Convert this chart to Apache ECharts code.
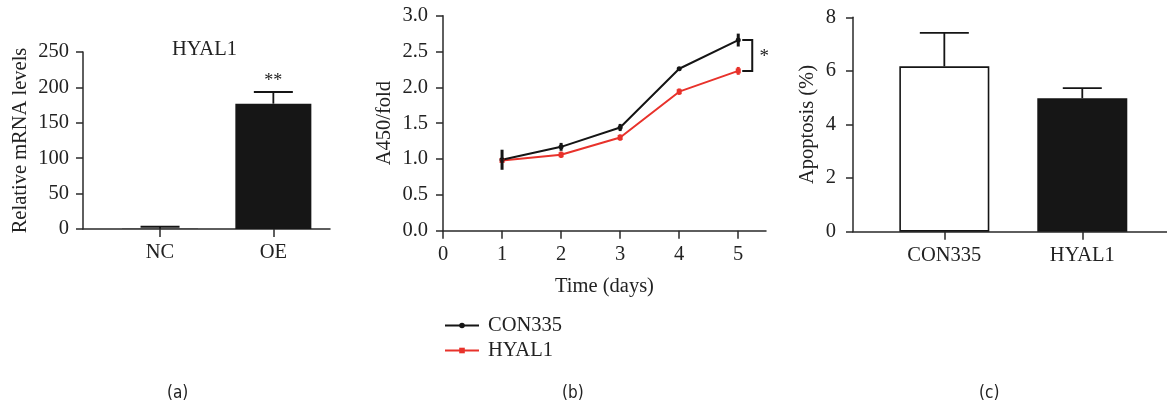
<!DOCTYPE html>
<html><head><meta charset="utf-8">
<script src="https://cdn.jsdelivr.net/npm/echarts@6/dist/echarts.min.js"></script>
<style>html,body{margin:0;padding:0;background:#fff}#c{width:1167px;height:404px}</style>
</head><body><div id="c"></div>
<script>
// ---------- Panel (a) ----------
const mrnaCategories = ['NC', 'OE'];
const mrnaValues = [0.2, 177];
const mrnaErrors = [3.0, 16.5];
const mrnaSig = ['', '**'];

// ---------- Panel (b) ----------
const days = [1, 2, 3, 4, 5];
const dayTicks = [0, 1, 2, 3, 4, 5];
const conValues = [0.99, 1.17, 1.44, 2.26, 2.66];
const conErrors = [0.14, 0.055, 0.05, 0.01, 0.09];
const hyalValues = [0.98, 1.06, 1.30, 1.94, 2.23];
const hyalErrors = [0.02, 0.045, 0.045, 0.045, 0.055];
const seriesNames = ['CON335', 'HYAL1'];

// ---------- Panel (c) ----------
const apoCategories = ['CON335', 'HYAL1'];
const apoValues = [6.17, 4.98];
const apoErrors = [1.25, 0.38];

const FONT = 'Liberation Serif, Times New Roman, serif';
const LABFONT = 'Liberation Sans Narrow, DejaVu Sans Condensed, sans-serif';
const TXT = '#222';
const AX = '#2a2a2a';
const RED = '#e8322b';
const BLK = '#151515';
const FS = 20.5;

function axisLine() { return { show: true, onZero: false, lineStyle: { color: AX, width: 1.5 } }; }
function axisTick(len) { return { show: true, length: len, lineStyle: { color: AX, width: 1.5 } }; }
function lbl(extra) { return Object.assign({ color: TXT, fontFamily: FONT, fontSize: FS }, extra); }

function barErr(capHalf, sig) {
  return function (params, api) {
    const i = api.value(0);
    const top = api.coord([i, api.value(1)]);
    const hi = api.coord([i, api.value(1) + api.value(2)]);
    const ch = capHalf[i];
    const children = [
      { type: 'line', shape: { x1: top[0], y1: top[1], x2: hi[0], y2: hi[1] }, style: { stroke: BLK, lineWidth: 1.8 } },
      { type: 'line', shape: { x1: hi[0] - ch, y1: hi[1], x2: hi[0] + ch, y2: hi[1] }, style: { stroke: BLK, lineWidth: 1.8 } }
    ];
    if (sig && sig[i]) {
      children.push({ type: 'text', style: { text: sig[i], x: hi[0], y: hi[1] - 11, align: 'center', verticalAlign: 'middle', fontFamily: FONT, fontSize: 18, fill: TXT } });
    }
    return { type: 'group', children };
  };
}

function lineErr(color, w) {
  return function (params, api) {
    const x = api.value(0), y = api.value(1), e = api.value(2);
    const lo = api.coord([x, y - e]);
    const hi = api.coord([x, y + e]);
    return { type: 'line', shape: { x1: lo[0], y1: lo[1], x2: hi[0], y2: hi[1] }, style: { stroke: color, lineWidth: w } };
  };
}

const chart = echarts.init(document.getElementById('c'), null, { renderer: 'canvas' });

const option = {
  backgroundColor: '#fff',
  animation: false,
  grid: [
    { left: 83, top: 52, width: 247, height: 177 },
    { left: 443, top: 15.7, width: 323, height: 215 },
    { left: 853, top: 17.3, width: 314, height: 214.4 }
  ],
  xAxis: [
    {
      gridIndex: 0, type: 'value', min: -0.68, max: 1.5,
      axisLine: axisLine(), axisTick: Object.assign(axisTick(8), { customValues: [0, 1] }),
      axisLabel: lbl({ customValues: [0, 1], margin: 13, formatter: v => mrnaCategories[Math.round(v)] }),
      splitLine: { show: false }
    },
    {
      gridIndex: 1, type: 'value', min: 0, max: 5.47,
      axisLine: axisLine(), axisTick: Object.assign(axisTick(8), { customValues: dayTicks }),
      axisLabel: lbl({ customValues: dayTicks, margin: 13 }),
      splitLine: { show: false },
      name: 'Time (days)', nameLocation: 'middle', nameGap: 45,
      nameTextStyle: { color: TXT, fontFamily: FONT, fontSize: FS }
    },
    {
      gridIndex: 2, type: 'value', min: -0.662, max: 1.614,
      axisLine: axisLine(), axisTick: Object.assign(axisTick(8), { customValues: [0, 1] }),
      axisLabel: lbl({ customValues: [0, 1], margin: 13, formatter: v => apoCategories[Math.round(v)] }),
      splitLine: { show: false }
    }
  ],
  yAxis: [
    {
      gridIndex: 0, type: 'value', min: 0, max: 250, interval: 50,
      axisLine: axisLine(), axisTick: axisTick(7),
      axisLabel: lbl({ margin: 14 }), splitLine: { show: false },
      name: 'Relative mRNA levels', nameLocation: 'middle', nameGap: 52,
      nameTextStyle: { color: TXT, fontFamily: FONT, fontSize: FS }
    },
    {
      gridIndex: 1, type: 'value', min: 0, max: 3, interval: 0.5,
      axisLine: axisLine(), axisTick: axisTick(7),
      axisLabel: lbl({ margin: 15, formatter: v => v.toFixed(1) }), splitLine: { show: false },
      name: 'A450/fold', nameLocation: 'middle', nameGap: 48,
      nameTextStyle: { color: TXT, fontFamily: FONT, fontSize: FS }
    },
    {
      gridIndex: 2, type: 'value', min: 0, max: 8, interval: 2,
      axisLine: axisLine(), axisTick: axisTick(7),
      axisLabel: lbl({ margin: 17 }), splitLine: { show: false },
      name: 'Apoptosis (%)', nameLocation: 'middle', nameGap: 35,
      nameTextStyle: { color: TXT, fontFamily: FONT, fontSize: FS }
    }
  ],
  legend: {
    data: seriesNames, orient: 'vertical', left: 439, top: 310, padding: 5,
    itemWidth: 34, itemHeight: 7, itemGap: 4,
    textStyle: { color: TXT, fontFamily: FONT, fontSize: FS, padding: [0, 0, 0, 4] }
  },
  graphic: [
    { type: 'text', left: 172, top: 39, style: { text: 'HYAL1', fontFamily: FONT, fontSize: FS, fill: TXT } },
    { type: 'text', left: 167, top: 385, style: { text: '(a)', fontFamily: LABFONT, fontSize: 17, fill: TXT } },
    { type: 'text', left: 562, top: 385, style: { text: '(b)', fontFamily: LABFONT, fontSize: 17, fill: TXT } },
    { type: 'text', left: 979, top: 385, style: { text: '(c)', fontFamily: LABFONT, fontSize: 17, fill: TXT } }
  ],
  series: [
    // Panel a
    {
      type: 'bar', xAxisIndex: 0, yAxisIndex: 0, barWidth: 76,
      itemStyle: { color: '#161616' },
      data: mrnaValues.map((v, i) => [i, v])
    },
    {
      type: 'custom', xAxisIndex: 0, yAxisIndex: 0, z: 5,
      renderItem: barErr([19.5, 19.5], mrnaSig),
      data: mrnaValues.map((v, i) => [i, v, mrnaErrors[i]])
    },
    // Panel b
    {
      name: 'HYAL1', type: 'line', xAxisIndex: 1, yAxisIndex: 1,
      symbol: 'rect', symbolSize: 5, color: RED,
      lineStyle: { color: RED, width: 2 }, itemStyle: { color: RED },
      data: days.map((d, i) => [d, hyalValues[i]])
    },
    {
      name: 'CON335', type: 'line', xAxisIndex: 1, yAxisIndex: 1,
      symbol: 'circle', symbolSize: 5, color: BLK,
      lineStyle: { color: BLK, width: 2 }, itemStyle: { color: BLK },
      data: days.map((d, i) => [d, conValues[i]])
    },
    {
      type: 'custom', xAxisIndex: 1, yAxisIndex: 1, z: 4,
      renderItem: lineErr(RED, 3),
      data: days.map((d, i) => [d, hyalValues[i], hyalErrors[i]])
    },
    {
      type: 'custom', xAxisIndex: 1, yAxisIndex: 1, z: 5,
      renderItem: lineErr(BLK, 3),
      data: days.map((d, i) => [d, conValues[i], conErrors[i]])
    },
    {
      type: 'custom', xAxisIndex: 1, yAxisIndex: 1, z: 5,
      renderItem: function (params, api) {
        const a = api.coord([api.value(0), api.value(1)]);
        const b = api.coord([api.value(0), api.value(2)]);
        const x = a[0] + 14;
        return {
          type: 'group', children: [
            { type: 'polyline', shape: { points: [[x - 10, a[1]], [x, a[1]], [x, b[1]], [x - 10, b[1]]] }, style: { stroke: BLK, lineWidth: 2, fill: null } },
            { type: 'text', style: { text: '*', x: x + 12, y: (a[1] + b[1]) / 2 + 2, align: 'center', verticalAlign: 'middle', fontFamily: FONT, fontSize: 19, fill: TXT } }
          ]
        };
      },
      data: [[days[4], conValues[4], hyalValues[4]]]
    },
    // Panel c
    {
      type: 'bar', xAxisIndex: 2, yAxisIndex: 2, barWidth: 90,
      data: [
        { value: [0, apoValues[0]], itemStyle: { color: '#fff', borderColor: BLK, borderWidth: 1.6 } },
        { value: [1, apoValues[1]], itemStyle: { color: '#161616', borderColor: BLK, borderWidth: 1.6 } }
      ]
    },
    {
      type: 'custom', xAxisIndex: 2, yAxisIndex: 2, z: 5,
      renderItem: barErr([24.5, 19.5], null),
      data: apoValues.map((v, i) => [i, v, apoErrors[i]])
    }
  ]
};
chart.setOption(option);
</script>
</body></html>
